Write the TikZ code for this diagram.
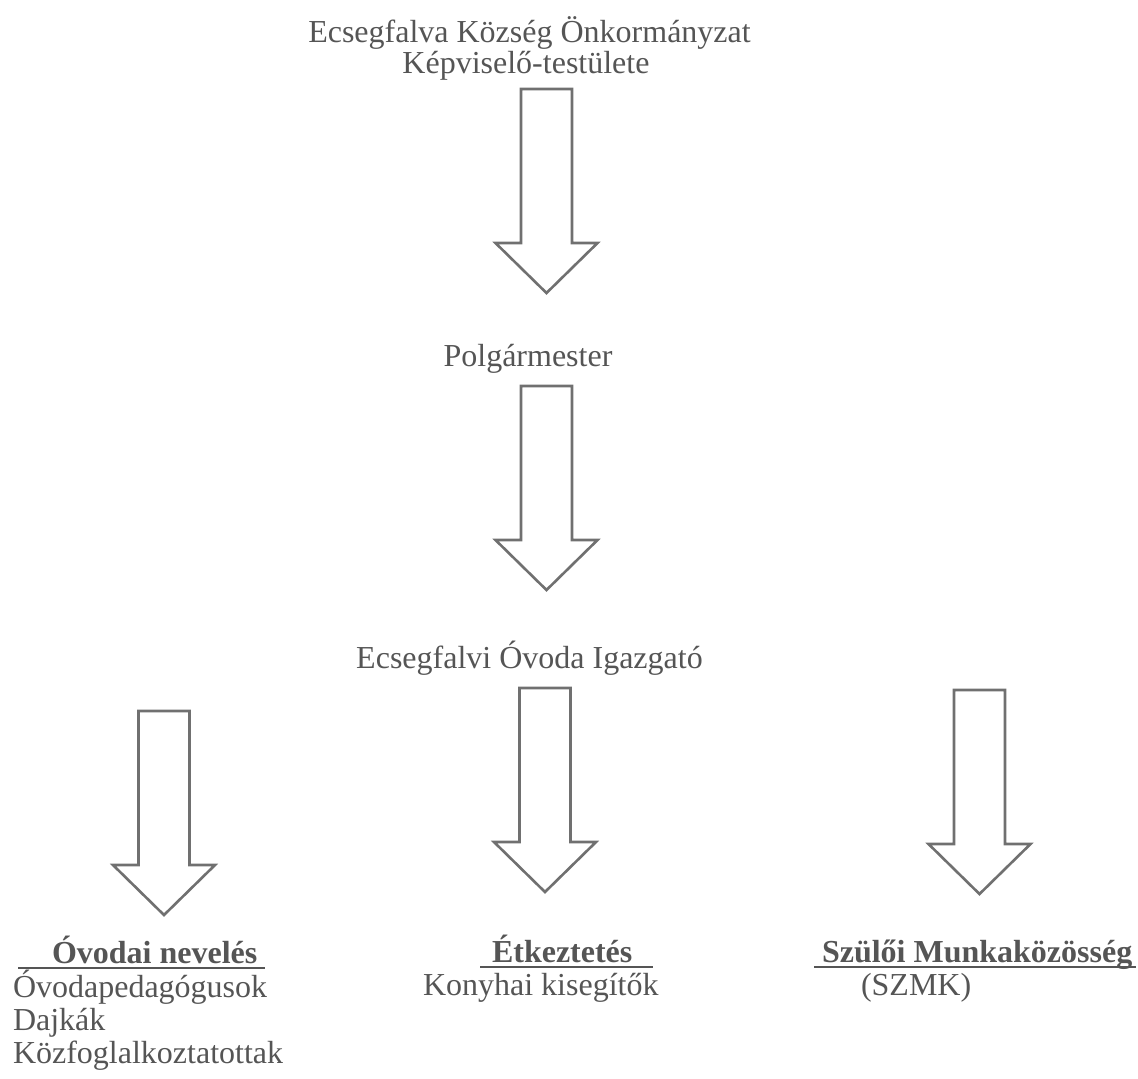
\documentclass[tikz,border=0pt]{standalone}
\usepackage{fontspec}
\setmainfont{Liberation Serif}
\definecolor{txtgray}{RGB}{85,85,85}
\definecolor{arrgray}{RGB}{112,112,112}
\tikzset{
  lbl/.style={inner sep=0pt, outer sep=0pt, text=txtgray, font=\fontsize{32}{33}\selectfont},
  blockarrow/.pic={
    \draw[arrgray, line width=2.6pt, fill=white, line join=miter]
      (-25.5,0) -- (25.5,0) -- (25.5,154) -- (51,154) -- (0,204) -- (-51,154) -- (-25.5,154) -- cycle;
  }
}
\newcommand{\ulbar}[1]{\rlap{\color{txtgray}\rule[-6pt]{#1pt}{2pt}}}
\begin{document}
\begin{tikzpicture}[x=1pt,y=-1pt]
\useasboundingbox (0,0) rectangle (1138,1079);
% texts
\node[lbl, anchor=base] (t1) at (529.5,42) {Ecsegfalva Község Önkormányzat};
\node[lbl, anchor=base] (t2) at (526,73) {Képviselő-testülete};
\node[lbl, anchor=base] (mayor) at (528,366) {Polgármester};
\node[lbl, anchor=base] (head) at (529.5,668) {Ecsegfalvi Óvoda Igazgató};
% bottom left
\node[lbl, anchor=base west] (ovt) at (18,963) {\ulbar{247}\hspace{34pt}\textbf{Óvodai nevelés}};
\node[lbl, anchor=base west] (ov1) at (13,997) {Óvodapedagógusok};
\node[lbl, anchor=base west] (ov2) at (13,1030) {Dajkák};
\node[lbl, anchor=base west] (ov3) at (13,1063) {Közfoglalkoztatottak};
% bottom middle
\node[lbl, anchor=base west] (ett) at (480,962) {\ulbar{173}\hspace{12pt}\textbf{Étkeztetés}};
\node[lbl, anchor=base west] (et1) at (423,995) {Konyhai kisegítők};
% bottom right
\node[lbl, anchor=base west] (szt) at (814,962) {\ulbar{322}\hspace{8pt}\textbf{Szülői Munkaközösség}};
\node[lbl, anchor=base west] (sz1) at (861,995) {(SZMK)};
% block arrows
\pic at (546.5,89) {blockarrow};
\pic at (546.5,386) {blockarrow};
\pic at (164,711) {blockarrow};
\pic at (545,688) {blockarrow};
\pic at (979.5,690) {blockarrow};
\end{tikzpicture}
\end{document}
